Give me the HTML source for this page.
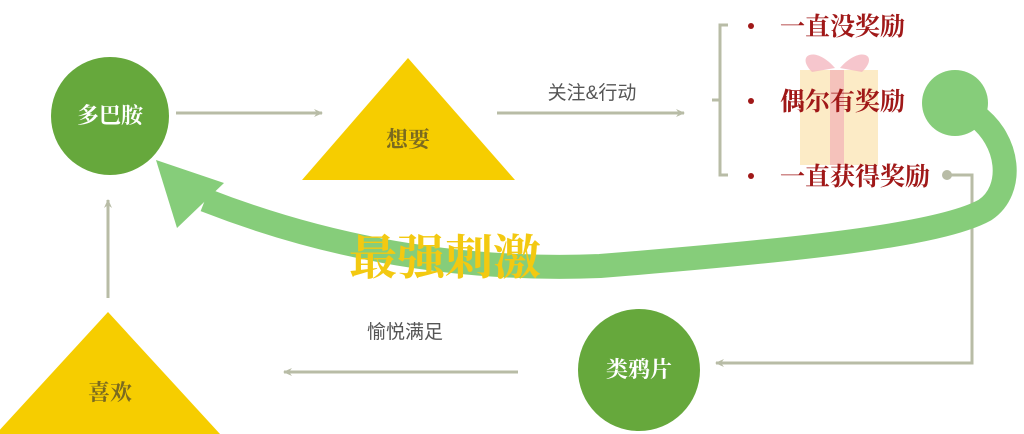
<!DOCTYPE html>
<html><head><meta charset="utf-8"><style>
html,body{margin:0;padding:0;background:#fff;}
body{width:1024px;height:434px;overflow:hidden;position:relative;font-family:"Liberation Serif","Noto Serif CJK SC",serif;}
</style></head><body>
<svg width="1024" height="434" viewBox="0 0 1024 434" xmlns="http://www.w3.org/2000/svg" style="position:absolute;left:0;top:0">
<defs>
<marker id="ah" markerWidth="10" markerHeight="10" refX="8" refY="5" orient="auto" markerUnits="userSpaceOnUse">
<path d="M0,1 L9,5 L0,9 L3,5 Z" fill="#b8bca6"/>
</marker>
</defs>
<!-- gift -->
<rect x="800" y="70" width="78" height="95" fill="#fbe6b8" opacity="0.8"/>
<rect x="830" y="70" width="14" height="95" fill="#f2b8b8" opacity="0.8"/>
<path d="M835,68 C815,45 795,55 812,72 Z M840,68 C860,45 880,55 862,72 Z" fill="#f4b8c0" opacity="0.8"/>
<!-- grey arrows -->
<line x1="176" y1="113" x2="322" y2="113" stroke="#b8bca6" stroke-width="3" marker-end="url(#ah)"/>
<line x1="497" y1="113" x2="684" y2="113" stroke="#b8bca6" stroke-width="3" marker-end="url(#ah)"/>
<line x1="108" y1="298" x2="108" y2="200" stroke="#b8bca6" stroke-width="3" marker-end="url(#ah)"/>
<line x1="518" y1="372" x2="284" y2="372" stroke="#b8bca6" stroke-width="3" marker-end="url(#ah)"/>
<polyline points="948,175 972,175 972,363 716,363" fill="none" stroke="#b8bca6" stroke-width="3" marker-end="url(#ah)"/>
<circle cx="947" cy="175" r="5" fill="#b8bca6"/>
<!-- bracket -->
<polyline points="728,25 720,25 720,175 728,175" fill="none" stroke="#b8bca6" stroke-width="3"/>
<line x1="712" y1="100" x2="720" y2="100" stroke="#b8bca6" stroke-width="3"/>
<!-- big green arrow -->
<circle cx="955" cy="103" r="33" fill="#86cd7a"/>
<path d="M975,115 C1010,140 1015,190 985,210 C940,235 800,250 600,266 C450,272 320,245 205,200" fill="none" stroke="#86cd7a" stroke-width="24"/>
<polygon points="156,160 224,183 177,228" fill="#86cd7a"/>
<!-- nodes -->
<circle cx="110" cy="116" r="59" fill="#66a83c"/>
<circle cx="639" cy="370" r="61" fill="#66a83c"/>
<polygon points="408,58 515,180 302,180" fill="#f6cd00"/>
<polygon points="108,312 220,434 -4,434" fill="#f6cd00"/>
<!-- texts -->
<g font-family="Liberation Serif, Noto Serif CJK SC, serif" font-weight="bold">
<text x="110" y="123" font-size="22" fill="#fff" text-anchor="middle">多巴胺</text>
<text x="639" y="377" font-size="22" fill="#fff" text-anchor="middle">类鸦片</text>
<text x="408" y="147" font-size="22" fill="#7a6a20" text-anchor="middle">想要</text>
<text x="110" y="400" font-size="22" fill="#7a6a20" text-anchor="middle">喜欢</text>
<text x="780" y="35" font-size="25" fill="#a01818">一直没奖励</text>
<text x="780" y="110" font-size="25" fill="#a01818">偶尔有奖励</text>
<text x="780" y="185" font-size="25" fill="#a01818">一直获得奖励</text>
<text x="445" y="274" font-size="48" fill="#f3c911" text-anchor="middle">最强刺激</text>
</g>
<g font-family="Liberation Sans, Noto Sans CJK SC, sans-serif" fill="#555" font-size="19">
<text x="592" y="99" text-anchor="middle">关注&amp;行动</text>
<text x="405" y="338" text-anchor="middle">愉悦满足</text>
</g>
<circle cx="751" cy="26" r="3" fill="#a01818"/>
<circle cx="751" cy="101" r="3" fill="#a01818"/>
<circle cx="751" cy="176" r="3" fill="#a01818"/>
</svg>
</body></html>
